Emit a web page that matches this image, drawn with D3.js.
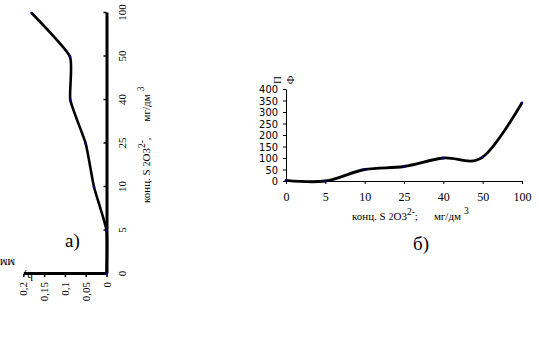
<!DOCTYPE html>
<html>
<head>
<meta charset="utf-8">
<script src="https://cdn.jsdelivr.net/npm/d3@7"></script>
<style>
  body { margin: 0; background: #fff; }
  svg { display: block; }
  .serif text, text.serif { font-family: "Liberation Serif", "Times New Roman", serif; }
</style>
</head>
<body>
<script>
// two panels: a) h vs concentration (rotated), б) Ф vs concentration

var catsA = ["0", "5", "10", "25", "40", "50", "100"];
var hVals = [0, 0, 0.03, 0.05, 0.087, 0.088, 0.18];
var hTicks = [0, 0.05, 0.1, 0.15, 0.2];

var catsB = ["0", "5", "10", "25", "40", "50", "100"];
var fVals = [3, 0, 50, 63, 100, 104, 340];
var fTicks = [0, 50, 100, 150, 200, 250, 300, 350, 400];

var svg = d3.select("body").append("svg")
  .attr("width", 539).attr("height", 358)
  .style("background", "#fff");

var commaFmt = function(d){ return String(d).replace(".", ","); };

// concentration title: конц. S2O3(2-) sep мг/дм3
var concTitle = function(t, sep, big, small){
  t.style("font-size", big + "px");
  t.append("tspan").text("конц. S");
  t.append("tspan").attr("dx", 3).style("font-size", small + "px").text("2");
  t.append("tspan").text("O3");
  t.append("tspan").attr("dx", 0).attr("dy", -5).style("font-size", small + "px").text("2-");
  t.append("tspan").attr("dy", 5).text(sep);
  t.append("tspan").attr("dx", 16).text("мг/дм");
  t.append("tspan").attr("dx", 3).attr("dy", -6).style("font-size", small + "px").text("3");
};

// ---------- panel a (whole chart turned 90deg ccw) ----------
var gA = svg.append("g").attr("class", "serif")
  .attr("transform", "translate(0,358) rotate(-90)");

var xA = d3.scalePoint().domain(catsA).range([84, 345]);
var yA = d3.scaleLinear().domain([0, 0.2]).range([106.5, 23.3]);

var lineA = d3.line()
  .x(function(d, i){ return xA(catsA[i]); })
  .y(function(d){ return yA(d); })
  .curve(d3.curveCardinal.tension(0.5));

gA.append("path").datum(hVals)
  .attr("d", lineA)
  .attr("fill", "none")
  .attr("stroke", "#000")
  .attr("stroke-width", 2.6);

var axA = gA.append("g").attr("transform", "translate(0,106.5)")
  .call(d3.axisBottom(xA).tickSizeInner(-3).tickSizeOuter(0).tickPadding(12));
axA.select(".domain").attr("stroke-width", 3);
axA.selectAll("line").attr("stroke-width", 1.5);
axA.selectAll("text").style("font-size", "11px");

var ayA = gA.append("g").attr("transform", "translate(84,0)")
  .call(d3.axisLeft(yA).tickValues(hTicks).tickFormat(commaFmt).tickSizeInner(3).tickSizeOuter(0).tickPadding(5));
ayA.select(".domain").attr("stroke-width", 3);
ayA.selectAll("line").attr("stroke-width", 1.5);
ayA.selectAll("text").style("font-size", "11px");

gA.selectAll(".ptA").data(hVals).enter().append("circle")
  .attr("class", "ptA")
  .attr("cx", function(d, i){ return xA(catsA[i]); })
  .attr("cy", function(d){ return yA(d); })
  .attr("r", 1.3)
  .attr("fill", "#000080");

concTitle(gA.append("text").attr("x", 155).attr("y", 150), ",", 11, 9.5);

// h, мм (upside down)
svg.append("text").attr("class", "serif")
  .attr("transform", "translate(33,272) rotate(180)")
  .style("font-size", "12px").text("h,");
svg.append("text").attr("class", "serif")
  .attr("transform", "translate(15,259) rotate(180)")
  .style("font-size", "12px").text("мм");

svg.append("text").attr("class", "serif")
  .attr("x", 65).attr("y", 247)
  .style("font-size", "19px").text("а)");

// ---------- panel б ----------
var gB = svg.append("g").attr("class", "serif");

var xB = d3.scalePoint().domain(catsB).range([286, 522]);
var yB = d3.scaleLinear().domain([0, 400]).range([181, 89]);

var lineB = d3.line()
  .x(function(d, i){ return xB(catsB[i]); })
  .y(function(d){ return yB(d); })
  .curve(d3.curveCardinal.tension(0));

gB.append("path").datum(fVals)
  .attr("d", lineB)
  .attr("fill", "none")
  .attr("stroke", "#000")
  .attr("stroke-width", 2.8);

var axB = gB.append("g").attr("transform", "translate(0,181)")
  .call(d3.axisBottom(xB).tickSizeInner(3).tickSizeOuter(0).tickPadding(8));
axB.selectAll("text").style("font-size", "12px");

var ayB = gB.append("g").attr("transform", "translate(286,0)")
  .call(d3.axisLeft(yB).tickValues(fTicks).tickSizeInner(3).tickSizeOuter(0).tickPadding(5));
ayB.selectAll("text")
  .style("font-family", "'Liberation Sans Narrow', 'DejaVu Sans Condensed', 'Arial Narrow', sans-serif")
  .style("font-stretch", "condensed")
  .style("font-size", "11px");

gB.selectAll(".ptB").data(fVals).enter().append("circle")
  .attr("class", "ptB")
  .attr("cx", function(d, i){ return xB(catsB[i]); })
  .attr("cy", function(d){ return yB(d); })
  .attr("r", 1.3)
  .attr("fill", "#000080");

gB.append("text").attr("transform", "translate(281,80) rotate(-90)")
  .attr("text-anchor", "middle").style("font-size", "11px").text("П");
gB.append("text").attr("transform", "translate(294,80) rotate(-90)")
  .attr("text-anchor", "middle").style("font-size", "11px").text("Ф");

concTitle(gB.append("text").attr("x", 352).attr("y", 220), ";", 11, 9.5);

gB.append("text")
  .attr("x", 413).attr("y", 250)
  .style("font-size", "19px").text("б)");
</script>
</body>
</html>
